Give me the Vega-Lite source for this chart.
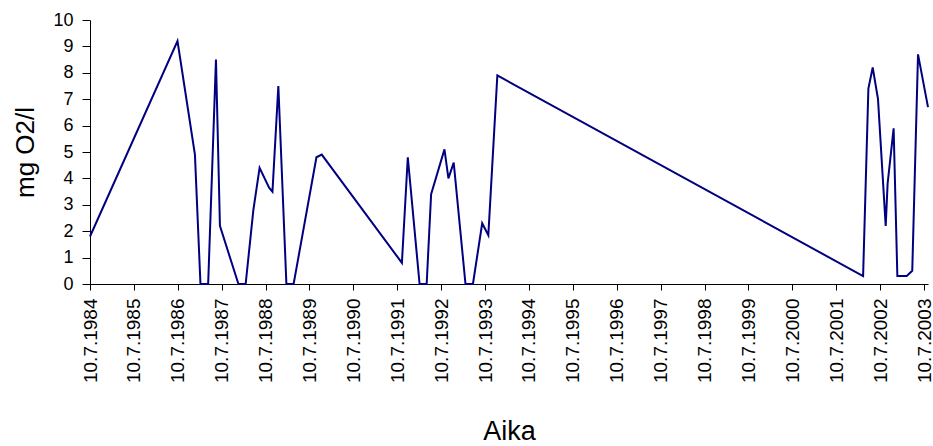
{
  "$schema": "https://vega.github.io/schema/vega-lite/v6.json",
  "width": 838,
  "height": 264,
  "autosize": "none",
  "padding": {"left": 90, "top": 20, "right": 5, "bottom": 162},
  "background": "white",
  "config": {
    "view": {"stroke": null},
    "font": "Liberation Sans",
    "axis": {
      "grid": false,
      "domainColor": "#000000",
      "tickColor": "#000000",
      "labelColor": "#000000",
      "titleColor": "#000000",
      "labelFont": "Liberation Sans",
      "titleFont": "Liberation Sans",
      "titleFontWeight": "normal"
    }
  },
  "data": {
    "values": [
      {"date": "1984-07-10", "value": 1.8},
      {"date": "1986-07-08", "value": 9.2},
      {"date": "1986-11-30", "value": 4.9},
      {"date": "1987-01-15", "value": 0},
      {"date": "1987-03-20", "value": 0},
      {"date": "1987-05-24", "value": 8.5},
      {"date": "1987-06-26", "value": 2.2},
      {"date": "1987-11-27", "value": 0},
      {"date": "1988-01-26", "value": 0},
      {"date": "1988-03-30", "value": 2.8},
      {"date": "1988-05-21", "value": 4.4},
      {"date": "1988-08-08", "value": 3.65},
      {"date": "1988-09-05", "value": 3.5},
      {"date": "1988-10-24", "value": 7.5},
      {"date": "1988-12-30", "value": 0},
      {"date": "1989-02-28", "value": 0},
      {"date": "1989-09-06", "value": 4.8},
      {"date": "1989-10-20", "value": 4.9},
      {"date": "1991-08-18", "value": 0.8},
      {"date": "1991-10-06", "value": 4.8},
      {"date": "1992-01-12", "value": 0},
      {"date": "1992-03-11", "value": 0},
      {"date": "1992-04-17", "value": 3.4},
      {"date": "1992-08-06", "value": 5.1},
      {"date": "1992-09-08", "value": 4.0},
      {"date": "1992-10-22", "value": 4.6},
      {"date": "1993-01-28", "value": 0},
      {"date": "1993-03-31", "value": 0},
      {"date": "1993-06-16", "value": 2.3},
      {"date": "1993-08-06", "value": 1.85},
      {"date": "1993-10-20", "value": 7.9},
      {"date": "2002-02-18", "value": 0.3},
      {"date": "2002-04-03", "value": 7.4},
      {"date": "2002-05-09", "value": 8.2},
      {"date": "2002-06-22", "value": 7.0},
      {"date": "2002-08-25", "value": 2.2},
      {"date": "2002-09-10", "value": 3.8},
      {"date": "2002-10-30", "value": 5.9},
      {"date": "2002-11-30", "value": 0.3},
      {"date": "2003-02-16", "value": 0.3},
      {"date": "2003-04-03", "value": 0.5},
      {"date": "2003-05-21", "value": 8.7},
      {"date": "2003-08-12", "value": 6.7}
    ]
  },
  "mark": {"type": "line", "color": "#000080", "strokeWidth": 2},
  "encoding": {
    "x": {
      "field": "date",
      "type": "temporal",
      "scale": {
        "type": "utc",
        "domain": [
          {"year": 1984, "month": 7, "date": 10, "utc": true},
          {"year": 2003, "month": 8, "date": 12, "utc": true}
        ],
        "nice": false
      },
      "axis": {
        "title": "Aika",
        "titleFontSize": 27,
        "titleX": 419,
        "titleY": 155,
        "titleAlign": "center",
        "titleBaseline": "alphabetic",
        "labelExpr": "utcFormat(datum.value, '%-d.%-m.%Y')",
        "labelAngle": 270,
        "labelFontSize": 19,
        "labelPadding": 8,
        "labelOverlap": false,
        "labelFlush": false,
        "labelBound": false,
        "tickSize": 6,
        "values": [
          {"year": 1984, "month": 7, "date": 10, "utc": true},
          {"year": 1985, "month": 7, "date": 10, "utc": true},
          {"year": 1986, "month": 7, "date": 10, "utc": true},
          {"year": 1987, "month": 7, "date": 10, "utc": true},
          {"year": 1988, "month": 7, "date": 10, "utc": true},
          {"year": 1989, "month": 7, "date": 10, "utc": true},
          {"year": 1990, "month": 7, "date": 10, "utc": true},
          {"year": 1991, "month": 7, "date": 10, "utc": true},
          {"year": 1992, "month": 7, "date": 10, "utc": true},
          {"year": 1993, "month": 7, "date": 10, "utc": true},
          {"year": 1994, "month": 7, "date": 10, "utc": true},
          {"year": 1995, "month": 7, "date": 10, "utc": true},
          {"year": 1996, "month": 7, "date": 10, "utc": true},
          {"year": 1997, "month": 7, "date": 10, "utc": true},
          {"year": 1998, "month": 7, "date": 10, "utc": true},
          {"year": 1999, "month": 7, "date": 10, "utc": true},
          {"year": 2000, "month": 7, "date": 10, "utc": true},
          {"year": 2001, "month": 7, "date": 10, "utc": true},
          {"year": 2002, "month": 7, "date": 10, "utc": true},
          {"year": 2003, "month": 7, "date": 10, "utc": true}
        ]
      }
    },
    "y": {
      "field": "value",
      "type": "quantitative",
      "scale": {"domain": [0, 10], "nice": false},
      "axis": {
        "title": "mg O2/l",
        "titleFontSize": 26,
        "titleAngle": 270,
        "titleX": -65,
        "titleY": 132,
        "titleAlign": "center",
        "titleBaseline": "middle",
        "values": [0, 1, 2, 3, 4, 5, 6, 7, 8, 9, 10],
        "labelFontSize": 18,
        "labelPadding": 9,
        "tickSize": 8
      }
    }
  }
}
